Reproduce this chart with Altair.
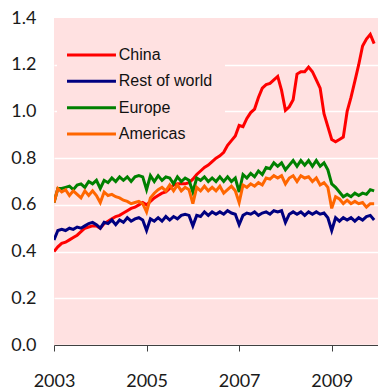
import altair as alt
import pandas as pd

# Monthly ratios, January 2003 to December 2009
months = pd.period_range("2003-01", "2009-12", freq="M")

china = [0.40, 0.42, 0.435, 0.44, 0.45, 0.46, 0.47, 0.485, 0.50, 0.505, 0.51, 0.51,
         0.50, 0.52, 0.53, 0.54, 0.55, 0.555, 0.565, 0.575, 0.585, 0.59, 0.60, 0.61,
         0.60, 0.615, 0.63, 0.64, 0.65, 0.655, 0.67, 0.685, 0.69, 0.69, 0.69, 0.695,
         0.71, 0.73, 0.745, 0.76, 0.77, 0.785, 0.80, 0.81, 0.825, 0.855, 0.875, 0.895,
         0.94, 0.935, 0.97, 0.995, 1.01, 1.06, 1.10, 1.115, 1.12, 1.135, 1.15, 1.09,
         1.005, 1.02, 1.05, 1.16, 1.17, 1.17, 1.19, 1.17, 1.135, 1.10, 0.99, 0.935,
         0.88, 0.87, 0.88, 0.89, 1.00, 1.06, 1.13, 1.20, 1.28, 1.31, 1.33, 1.29]

rest_of_world = [0.45, 0.49, 0.495, 0.49, 0.50, 0.495, 0.505, 0.50, 0.51, 0.52, 0.525, 0.515,
                 0.50, 0.525, 0.52, 0.535, 0.515, 0.535, 0.525, 0.545, 0.53, 0.54, 0.545, 0.535,
                 0.49, 0.54, 0.53, 0.545, 0.53, 0.55, 0.535, 0.55, 0.54, 0.555, 0.56, 0.555,
                 0.51, 0.555, 0.55, 0.57, 0.555, 0.57, 0.56, 0.57, 0.56, 0.575, 0.565, 0.56,
                 0.515, 0.555, 0.565, 0.56, 0.57, 0.555, 0.565, 0.57, 0.56, 0.575, 0.57, 0.575,
                 0.525, 0.56, 0.57, 0.56, 0.57, 0.555, 0.57, 0.56, 0.57, 0.56, 0.565, 0.545,
                 0.49, 0.545, 0.53, 0.545, 0.535, 0.545, 0.53, 0.545, 0.535, 0.55, 0.555, 0.535]

europe = [0.61, 0.67, 0.67, 0.675, 0.68, 0.665, 0.685, 0.69, 0.675, 0.70, 0.69, 0.705,
          0.67, 0.705, 0.695, 0.715, 0.70, 0.72, 0.705, 0.72, 0.70, 0.72, 0.725, 0.72,
          0.665, 0.725, 0.70, 0.725, 0.705, 0.72, 0.715, 0.69, 0.72, 0.70, 0.715, 0.705,
          0.655, 0.715, 0.705, 0.72, 0.70, 0.715, 0.70, 0.72, 0.70, 0.72, 0.70, 0.715,
          0.655, 0.73, 0.715, 0.735, 0.72, 0.745, 0.73, 0.76, 0.755, 0.78, 0.765, 0.78,
          0.75, 0.77, 0.79, 0.765, 0.79, 0.77, 0.79, 0.765, 0.79, 0.765, 0.78, 0.75,
          0.69, 0.675, 0.655, 0.635, 0.645, 0.635, 0.65, 0.64, 0.65, 0.645, 0.665, 0.66]

americas = [0.61, 0.67, 0.655, 0.665, 0.64, 0.66, 0.645, 0.63, 0.66, 0.64, 0.66, 0.64,
            0.61, 0.655, 0.64, 0.645, 0.635, 0.63, 0.62, 0.615, 0.605, 0.61, 0.615, 0.605,
            0.57, 0.63, 0.65, 0.665, 0.675, 0.66, 0.685, 0.66, 0.685, 0.66, 0.675, 0.665,
            0.605, 0.675, 0.66, 0.68, 0.66, 0.675, 0.66, 0.68, 0.65, 0.665, 0.68, 0.66,
            0.61, 0.685, 0.675, 0.69, 0.68, 0.695, 0.685, 0.715, 0.71, 0.725, 0.715, 0.725,
            0.69, 0.715, 0.725, 0.70, 0.725, 0.715, 0.72, 0.70, 0.715, 0.685, 0.695, 0.675,
            0.585, 0.635, 0.625, 0.605, 0.62, 0.605, 0.615, 0.605, 0.61, 0.59, 0.605, 0.605]

series_names = ["China", "Rest of world", "Europe", "Americas"]
series_colors = ["#FF0000", "#000080", "#008000", "#FF6600"]
series_values = [china, rest_of_world, europe, americas]

year_ticks = [2003, 2005, 2007, 2009]
value_ticks = [0.0, 0.2, 0.4, 0.6, 0.8, 1.0, 1.2, 1.4]

PINK = "#FFE1E1"

# Decimal year for each month
t = [p.year + (p.month - 1) / 12 for p in months]
df = pd.concat(
    [pd.DataFrame({"t": t, "value": v, "series": n}) for n, v in zip(series_names, series_values)],
    ignore_index=True,
)

color_scale = alt.Scale(domain=series_names, range=series_colors)

x_enc = alt.X(
    "t:Q",
    title=None,
    scale=alt.Scale(domain=[2003, 2010], nice=False, zero=False),
    axis=alt.Axis(
        values=year_ticks, format="d", grid=False, domain=True, domainColor="#404040",
        domainWidth=1, ticks=True, tickColor="#404040", tickSize=6, labelPadding=21,
        labelFlush=False,
    ),
)
y_enc = alt.Y(
    "value:Q",
    title=None,
    scale=alt.Scale(domain=[0, 1.4], nice=False),
    axis=alt.Axis(
        values=value_ticks, format=".1f", domain=False, ticks=False, tickSize=0,
        labelPadding=18, labelFlush=False, grid=True, gridColor="white", gridWidth=1.5,
        gridOpacity={"condition": {"test": "datum.value >= 1.39", "value": 0}, "value": 1},
    ),
)

# Pink panel behind the legend that hides the gridlines
legend_box = alt.Chart(pd.DataFrame({"k": [0]})).mark_rect(fill=PINK).encode(
    x=alt.value(3), x2=alt.value(171), y=alt.value(6), y2=alt.value(131)
)

lines = [
    alt.Chart(df).transform_filter(alt.datum.series == name).mark_line(
        strokeWidth=3, clip=True
    ).encode(
        x=x_enc,
        y=y_enc,
        color=alt.Color("series:N", scale=color_scale, legend=None),
    )
    for name in series_names
]

# Hand-drawn legend, placed in data units
LEG_TOP = 1.2414
LEG_STEP = 0.1127
LEG_X0 = 2003.281
LEG_X1 = 2004.339
LEG_TX = 2004.40

legend_df = pd.DataFrame({"series": series_names, "rank": list(range(len(series_names)))})
legend_base = alt.Chart(legend_df).transform_calculate(
    ly=f"{LEG_TOP} - {LEG_STEP} * datum.rank",
    lx0=f"{LEG_X0}",
    lx1=f"{LEG_X1}",
    tx=f"{LEG_TX}",
)
legend_rules = legend_base.mark_rule(strokeWidth=3).encode(
    x="lx0:Q",
    x2="lx1:Q",
    y="ly:Q",
    color=alt.Color("series:N", scale=color_scale, legend=None),
)
legend_text = legend_base.mark_text(
    align="left", baseline="middle", font="Liberation Sans", fontSize=16, color="#111111"
).encode(x="tx:Q", y="ly:Q", text="series:N")

chart = alt.layer(legend_box, *lines, legend_rules, legend_text).properties(
    width=324,
    height=327,
    autosize=alt.AutoSizeParams(type="none"),
    padding={"left": 54, "top": 18, "right": 0, "bottom": 42},
    background="white",
).configure_view(
    fill=PINK, stroke=None
).configure_axis(
    labelFont="Lato", labelFontSize=18, labelColor="#1a1a1a"
)

chart.save("out.html", embed_options={"renderer": "svg", "actions": False})
